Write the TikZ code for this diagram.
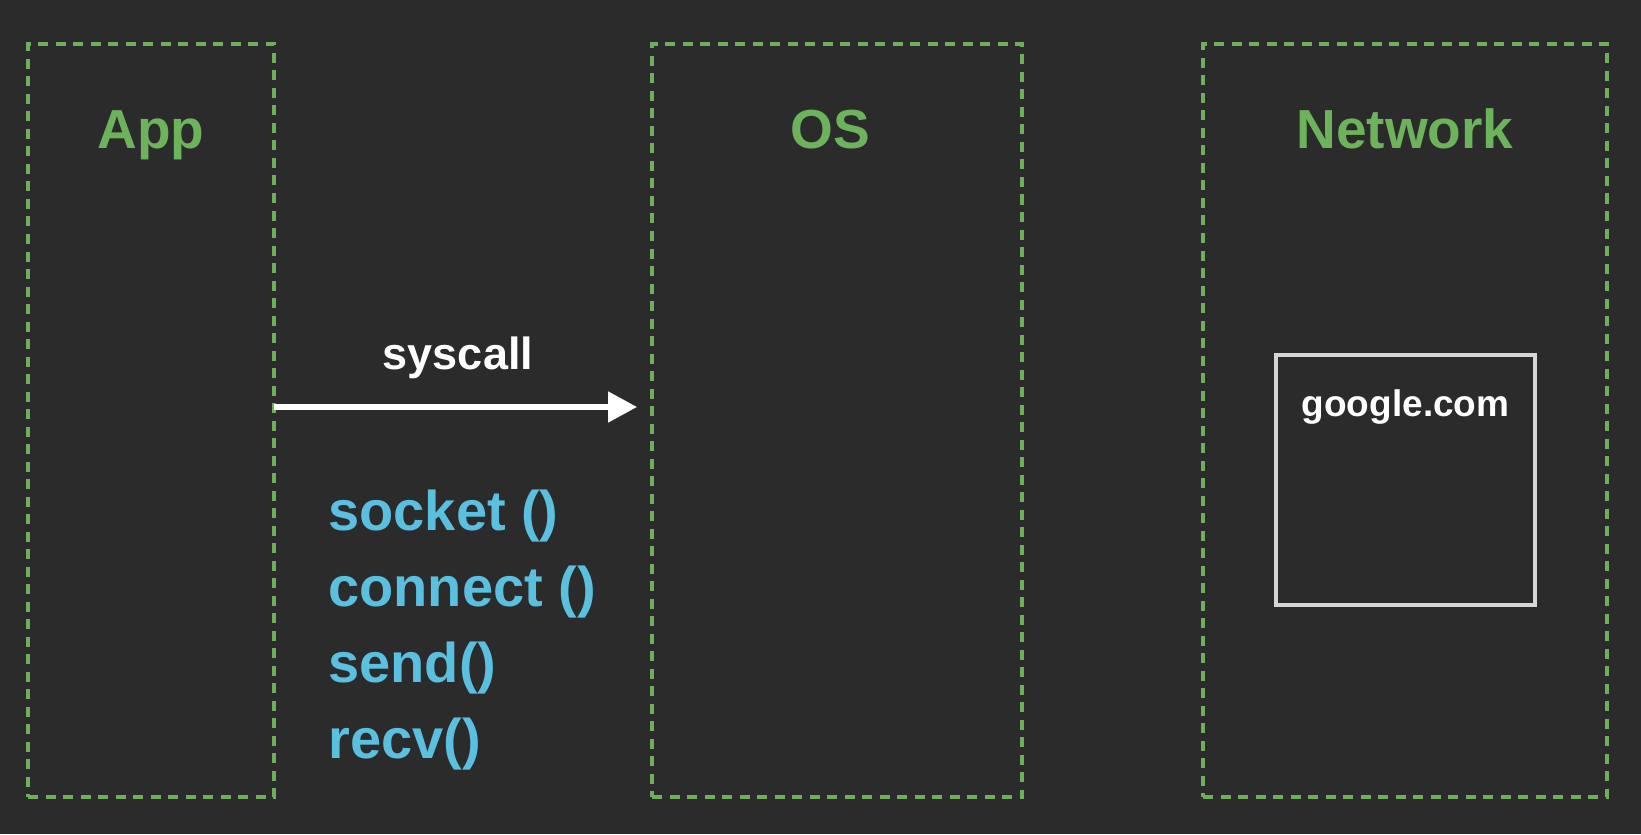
\documentclass[tikz,border=0pt]{standalone}
\usepackage{fontspec}
\setmainfont{Liberation Sans}
\usetikzlibrary{arrows.meta, positioning}
\definecolor{bgdark}{HTML}{2B2B2B}
\definecolor{lanegreen}{HTML}{6DAF5B}
\definecolor{titlegreen}{HTML}{6CB35C}
\definecolor{callblue}{HTML}{5BBFDF}
\definecolor{hostgrey}{HTML}{D6D6D6}
\tikzset{lane/.style = {
  % dashed column
  rectangle, draw=lanegreen,
  line width=1.8pt,
  dash pattern=on 5pt off 3.75pt,
  inner sep=0pt, outer sep=0pt
  }}
\tikzset{lanetitle/.style = {
  text=titlegreen,
  font=\fontsize{27.5}{33}\selectfont\bfseries,
  inner sep=0pt, anchor=base
  }}
\tikzset{callname/.style = {
  text=callblue,
  font=\fontsize{28}{34}\selectfont\bfseries,
  inner sep=0pt, anchor=base west
  }}
\tikzset{host/.style = {
  rectangle, draw=hostgrey,
  line width=2pt,
  minimum width=129.5pt, minimum height=125pt,
  inner sep=0pt
  }}
\tikzset{arrow/.style = {
  -{Triangle[length=14.5pt, width=15pt]},
  draw=white,
  line width=2.6pt,
  shorten >= 7.5pt
  }}

\begin{document}
\begin{tikzpicture}[x=0.5pt, y=-0.5pt]
% BACKGROUND
\fill[bgdark] (0,0) rectangle (1641,834);
\useasboundingbox (0,0) rectangle (1641,834);

% LANES
\node (app) [lane, minimum width=123pt, minimum height=376.5pt] at (151,420.5) {};
\node (os) [lane, minimum width=185pt, minimum height=376.5pt] at (837,420.5) {};
\node (net) [lane, minimum width=202pt, minimum height=376.5pt] at (1405,420.5) {};

\node (apptitle) [lanetitle] at ([yshift=-52.5pt]app.north) {App};
\node (ostitle) [lanetitle] at ([yshift=-52.5pt,xshift=-3.5pt]os.north) {OS};
\node (nettitle) [lanetitle] at ([yshift=-52.5pt]net.north) {Network};

% HOST
\node (google) [host] at (1405.5,480) {};
\node (googlelabel) [text=white, font=\fontsize{18.5}{22}\selectfont\bfseries,
  inner sep=0pt, anchor=base] at ([yshift=-31.5pt]google.north) {google.com};

% SYSCALLS
\node (socket) [callname] at (328,530) {socket ()};
\node (connect) [callname] at (328,606) {connect ()};
\node (send) [callname] at (328,682) {send()};
\node (recv) [callname] at (328,758) {recv()};

% arrow
\coordinate (callstart) at (274,407);
\draw [arrow] (callstart) -- (callstart -| os.west)
  node (syscall) [midway, above=19pt, xshift=-2.5pt, text=white,
  font=\fontsize{22.5}{27}\selectfont\bfseries, inner sep=0pt, anchor=base] {syscall};
\end{tikzpicture}
\end{document}
